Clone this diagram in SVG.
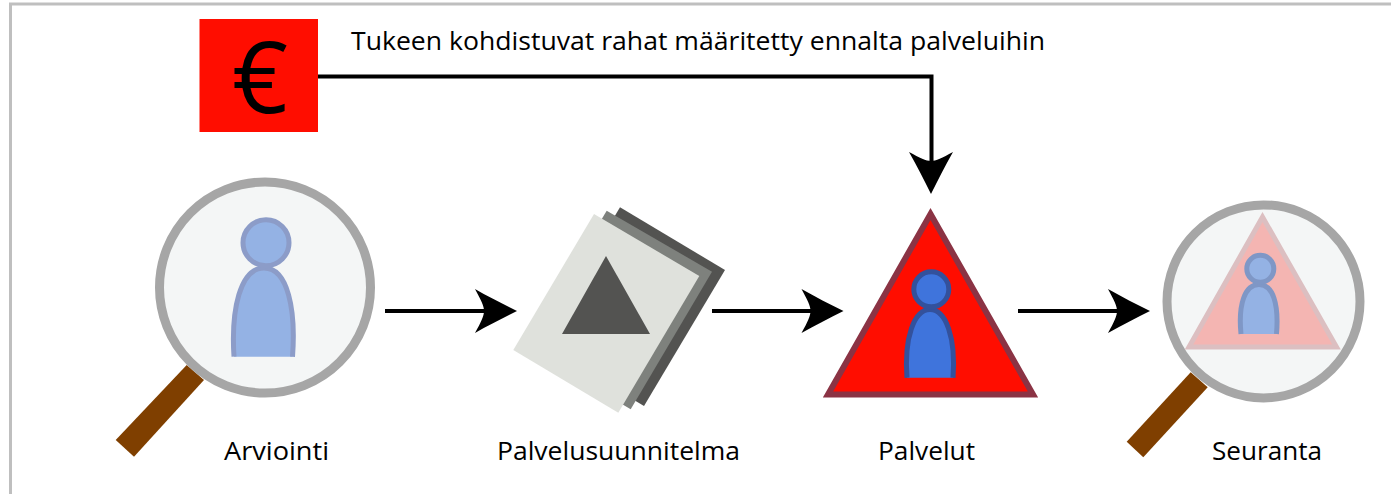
<svg xmlns="http://www.w3.org/2000/svg" width="1391" height="494" viewBox="0 0 1391 494">
<style>
.t{font-family:"Open Sans","Noto Sans",sans-serif;font-size:26px;fill:#000}
.lens{fill:#f4f6f6;stroke:#a6a6a6;stroke-width:9}
.handle{fill:#7f3f00}
.conn{fill:none;stroke:#000;stroke-width:4}
.p1{fill:#94b2e4;stroke:#8c9cc8;stroke-width:5}
.p2{fill:#3f74dc;stroke:#33519c;stroke-width:5}
.p3{fill:#94b2e4;stroke:#7f97c6;stroke-width:5}
</style>
<defs>
<path id="head" d="M0,0 C-14,-7 -28,-14 -42,-22 C-36,-11 -33,-5 -33,0 C-33,5 -36,11 -42,22 C-28,14 -14,7 0,0Z" fill="#000"/>
</defs>
<path id="frame" d="M10.500,494V4H1391" fill="none" stroke="#bfbfbf" stroke-width="3"/>
<g id="connectors">
<path class="conn" d="M318,76.500H931.500V165"/>
<use href="#head" transform="translate(931,194) rotate(90)"/>
<path class="conn" d="M385,311H490"/>
<use href="#head" transform="translate(517,311)"/>
<path class="conn" d="M712,311H815"/>
<use href="#head" transform="translate(843.500,311)"/>
<path class="conn" d="M1018,311H1122"/>
<use href="#head" transform="translate(1150,311)"/>
</g>
<g id="funding">
<rect x="199.500" y="19" width="118.500" height="113" fill="#ff0d00"/>
<text x="260" y="113" text-anchor="middle" style="font-family:'Open Sans','Noto Sans',sans-serif;font-size:98px;fill:#000">€</text>
<text class="t" x="351" y="50" textLength="694" lengthAdjust="spacingAndGlyphs">Tukeen kohdistuvat rahat määritetty ennalta palveluihin</text>
</g>
<g id="arviointi">
<polygon class="handle" points="115.700,440 134,456.700 204,380 186.700,365"/>
<circle class="lens" cx="265" cy="287.500" r="105.500"/>
<path d="M234,356.700 C231,310 240,268 264,268 C288,268 296,310 292.500,356.700Z" fill="#94b2e4"/>
<path d="M234,356.700 C231,310 240,268 264,268 C288,268 296,310 292.500,356.700" fill="none" stroke="#8c9cc8" stroke-width="5"/>
<circle class="p1" cx="266" cy="242.700" r="23"/>
<text class="t" x="224" y="460" textLength="105" lengthAdjust="spacingAndGlyphs">Arviointi</text>
</g>
<g id="palvelusuunnitelma">
<polygon points="620,207.300 725,270 644,406 539,343" fill="#535351"/>
<polygon points="606.700,210.700 712,271.700 630.700,409.300 525,347" fill="#7e817d"/>
<polygon points="594,214 699.300,276 618.300,412.700 513.300,350" fill="#dfe1dc"/>
<polygon points="606,256 650,334 562,334" fill="#535351"/>
<text class="t" x="497" y="460" textLength="243" lengthAdjust="spacingAndGlyphs">Palvelusuunnitelma</text>
</g>
<g id="palvelut">
<polygon points="930.500,214 1033,394.500 828,394.500" fill="#ff0d00" stroke="#8b3344" stroke-width="6"/>
<path d="M907,377.700 C904,338 914,309.500 930,309.500 C946,309.500 956,338 953,377.700Z" fill="#3f74dc"/>
<path d="M907,377.700 C904,338 914,309.500 930,309.500 C946,309.500 956,338 953,377.700" fill="none" stroke="#33519c" stroke-width="5"/>
<circle class="p2" cx="931.300" cy="289.300" r="17.500"/>
<text class="t" x="878" y="460" textLength="97" lengthAdjust="spacingAndGlyphs">Palvelut</text>
</g>
<g id="seuranta">
<polygon class="handle" points="1126.700,441.700 1143.300,457.300 1207.700,387.300 1190.700,372.300"/>
<circle class="lens" cx="1263.500" cy="301.400" r="96.500"/>
<polygon points="1262.500,217 1336.500,347 1189,347" fill="#f4b5b2" stroke="#dcbfc1" stroke-width="5"/>
<path d="M1241,334 C1238,304 1245,284.500 1259,284.500 C1273,284.500 1279,304 1276.500,334Z" fill="#94b2e4"/>
<path d="M1241,334 C1238,304 1245,284.500 1259,284.500 C1273,284.500 1279,304 1276.500,334" fill="none" stroke="#7f97c6" stroke-width="5"/>
<circle class="p3" cx="1260.300" cy="268.700" r="13.500"/>
<text class="t" x="1212" y="460" textLength="110" lengthAdjust="spacingAndGlyphs">Seuranta</text>
</g>
</svg>
